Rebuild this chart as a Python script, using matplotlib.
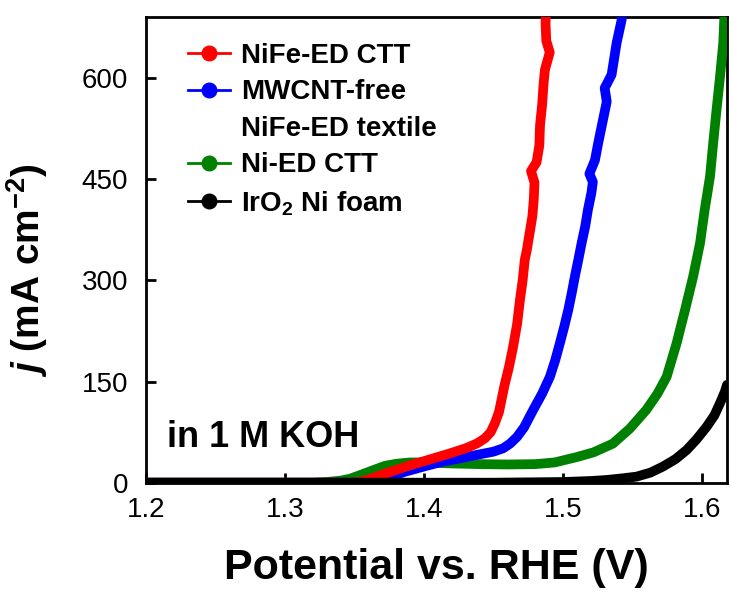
import matplotlib
matplotlib.use("Agg")
import matplotlib.pyplot as plt
from matplotlib.lines import Line2D

plt.rcParams["font.family"] = ["Liberation Sans", "DejaVu Sans"]
plt.rcParams["mathtext.fontset"] = "custom"
plt.rcParams["mathtext.rm"] = "Liberation Sans:bold"
plt.rcParams["mathtext.it"] = "Liberation Sans:bold:italic"
plt.rcParams["mathtext.bf"] = "Liberation Sans:bold"

# LSV data: potential (V vs RHE), current density (mA cm-2)
nife_v = [1.20, 1.30, 1.350, 1.356, 1.362, 1.370, 1.380, 1.392, 1.405, 1.418,
          1.430, 1.438, 1.444, 1.448, 1.451, 1.454, 1.456, 1.458, 1.461,
          1.464, 1.467, 1.469, 1.471, 1.4725, 1.474, 1.476, 1.478, 1.479,
          1.4795, 1.477, 1.481, 1.483, 1.4835, 1.485, 1.486, 1.487, 1.4905,
          1.488, 1.4875, 1.488]
nife_j = [0, 0, 0, 2, 6, 12, 19, 27, 35, 43, 51, 58, 66, 75, 88, 105, 125,
          145, 170, 200, 235, 270, 300, 330, 345, 370, 395, 420, 445, 462,
          475, 500, 530, 560, 590, 612, 638, 655, 680, 720]

free_v = [1.20, 1.30, 1.360, 1.366, 1.375, 1.386, 1.400, 1.413, 1.428, 1.440,
          1.450, 1.457, 1.462, 1.467, 1.472, 1.4786, 1.485, 1.4906, 1.4945,
          1.4978, 1.501, 1.5038, 1.5063, 1.5086, 1.511, 1.5134, 1.516, 1.518,
          1.5205, 1.5215, 1.519, 1.523, 1.5254, 1.528, 1.5315, 1.530, 1.535,
          1.5386, 1.5422, 1.544]
free_j = [0, 0, 0, 2, 8, 16, 24, 31, 37, 42, 46, 51, 58, 68, 82, 108, 132,
          157, 182, 207, 232, 256, 281, 306, 330, 355, 380, 405, 430, 446,
          458, 478, 504, 530, 565, 585, 605, 652, 686, 720]

ni_v = [1.20, 1.32, 1.330, 1.340, 1.347, 1.355, 1.364, 1.372, 1.380, 1.390,
        1.400, 1.420, 1.440, 1.460, 1.480, 1.494, 1.510, 1.522, 1.536, 1.548,
        1.560, 1.568, 1.5746, 1.5818, 1.5878, 1.5937, 1.5986, 1.602, 1.6058,
        1.6081, 1.6105, 1.613, 1.6153, 1.616, 1.617]
ni_j = [0, 0, 1, 3, 6, 12, 19, 25, 28, 30, 30, 28.5, 27.5, 27, 27.5, 30, 38,
        45, 58, 80, 108, 132, 157, 207, 256, 306, 355, 405, 454, 504, 553,
        602, 652, 686, 720]

iro2_v = [1.20, 1.45, 1.50, 1.52, 1.5314, 1.543, 1.553, 1.563, 1.572, 1.581,
          1.589, 1.596, 1.6034, 1.609, 1.613, 1.6165, 1.618]
iro2_j = [0, 0, 1, 2.5, 4, 6.5, 9, 15, 24, 35, 48.5, 64, 83, 100, 118, 135,
          145]

labels = ["NiFe-ED CTT", "MWCNT-free", "NiFe-ED textile", "Ni-ED CTT",
          "IrO$_2$ Ni foam"]

fig = plt.figure(figsize=(7.31, 5.94), dpi=100)
ax = fig.add_axes([0.1997, 0.1874, 0.7948, 0.7835])

lw = 7
style = dict(lw=lw, solid_capstyle="round", solid_joinstyle="round")
ax.plot(ni_v, ni_j, color="#008000", zorder=3, **style)
ax.plot(free_v, free_j, color="#0000ff", zorder=4, **style)
ax.plot(nife_v, nife_j, color="#ff0000", zorder=5, **style)
ax.plot(iro2_v, iro2_j, color="black", zorder=6, **style)

ax.set_xlim(1.2, 1.618)
ax.set_ylim(0, 690)
ax.set_xticks([1.2, 1.3, 1.4, 1.5, 1.6])
ax.set_yticks([0, 150, 300, 450, 600])
ax.tick_params(direction="in", length=7, width=2, labelsize=20)
ax.tick_params(axis="x", pad=10)
ax.tick_params(axis="y", pad=13)
for s in ax.spines.values():
    s.set_linewidth(2)

ax.set_xlabel("Potential vs. RHE (V)", fontsize=31, fontweight="bold",
              labelpad=18)
ax.set_ylabel("$j$ (mA cm$^{-2}$)", fontsize=28, fontweight="bold")
ax.yaxis.set_label_coords(-0.165, 0.457)

ax.text(0.037, 0.098, "in 1 M KOH", transform=ax.transAxes, fontsize=26,
        fontweight="bold", va="center")

# legend: blank handle so the second label wraps onto its own row
handles = []
for c in ["#ff0000", "#0000ff", None, "#008000", "black"]:
    if c is None:
        handles.append(Line2D([], [], color="none"))
    else:
        handles.append(Line2D([], [], color=c, lw=2, marker="o",
                              markersize=10.5))
ax.legend(handles, labels, loc="upper left", bbox_to_anchor=(0.054, 0.969),
          frameon=False, prop={"size": 20, "weight": "bold"},
          handlelength=1.5, handletextpad=0.4, labelspacing=0.38,
          borderaxespad=0)

fig.savefig("out.png", dpi=100)
